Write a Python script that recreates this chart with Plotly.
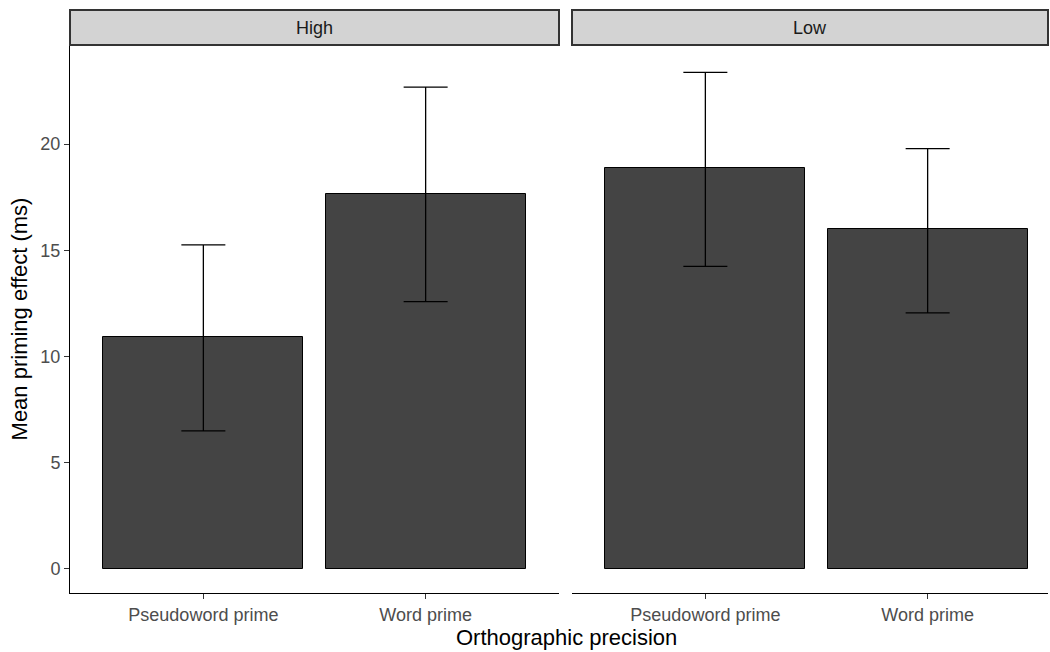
import plotly.graph_objects as go

categories = ["Pseudoword prime", "Word prime"]
panels = ["High", "Low"]
means_high = [10.92, 17.65]
upper_high = [15.25, 22.68]
lower_high = [6.50, 12.58]
means_low = [18.87, 15.98]
upper_low = [23.37, 19.78]
lower_low = [14.24, 12.05]

W, H = 1050, 652
px_x = lambda v: v / W
px_y = lambda v: 1 - v / H

top_plot, bot_plot = 45, 593
strip_top = 10
left1, right1 = 70, 559
left2, right2 = 572, 1048
unit = (right1 - left1) / 2.2

FONT = "Liberation Sans, Arial, sans-serif"
fig = go.Figure()
xpos = [1, 2]
for i, (m, up, lo) in enumerate([(means_high, upper_high, lower_high), (means_low, upper_low, lower_low)]):
    fig.add_trace(go.Bar(
        x=xpos, y=m, width=0.9,
        xaxis="x" if i == 0 else "x2", yaxis="y" if i == 0 else "y2",
        marker=dict(color="#444444", line=dict(color="#000000", width=1)),
        error_y=dict(type="data", symmetric=False,
                     array=[u - v for u, v in zip(up, m)],
                     arrayminus=[v - l for v, l in zip(m, lo)],
                     color="#000000", thickness=1.3, width=22),
        showlegend=False, hoverinfo="skip"))

ymin, ymax = -1.13, 24.66
tickfont = dict(family=FONT, size=18, color="#4d4d4d")
common_x = dict(tickmode="array", tickvals=xpos, ticktext=categories, ticks="outside",
                ticklen=5, tickcolor="#333333", showline=True, linecolor="#000000", linewidth=1,
                showgrid=False, zeroline=False, tickfont=tickfont, fixedrange=True)
fig.update_layout(
    width=W, height=H, margin=dict(l=0, r=0, t=0, b=0),
    paper_bgcolor="white", plot_bgcolor="white", bargap=0,
    xaxis=dict(domain=[px_x(left1), px_x(right1)], range=[0.4, 2.6], anchor="y", **common_x),
    xaxis2=dict(domain=[px_x(left2), px_x(right2)], range=[0.4, 0.4 + (right2 - left2) / unit], anchor="y2", **common_x),
    yaxis=dict(domain=[px_y(bot_plot), px_y(top_plot)], range=[ymin, ymax], anchor="x",
               tickvals=[0, 5, 10, 15, 20], ticks="outside", ticklen=5, tickcolor="#333333",
               showline=True, linecolor="#000000", linewidth=1, showgrid=False, zeroline=False,
               tickfont=tickfont,
               title=dict(text="Mean priming effect (ms)", standoff=6,
                          font=dict(family=FONT, size=22, color="#000000"))),
    yaxis2=dict(domain=[px_y(bot_plot), px_y(top_plot)], range=[ymin, ymax], anchor="x2",
                showticklabels=False, showline=False, showgrid=False, zeroline=False, ticks=""),
)

for (l, r), name in zip([(left1, right1), (left2, right2)], panels):
    fig.add_shape(type="rect", xref="paper", yref="paper",
                  x0=px_x(l), x1=px_x(r), y0=px_y(top_plot), y1=px_y(strip_top),
                  fillcolor="#d3d3d3", line=dict(color="#333333", width=2), layer="above")
    fig.add_annotation(xref="paper", yref="paper", x=px_x((l + r) / 2), y=px_y((strip_top + top_plot) / 2),
                       text=name, showarrow=False, xanchor="center", yanchor="middle",
                       font=dict(family=FONT, size=18, color="#1a1a1a"))

fig.add_annotation(xref="paper", yref="paper", x=px_x(566), y=px_y(637),
                   text="Orthographic precision", showarrow=False, xanchor="center", yanchor="middle",
                   font=dict(family=FONT, size=22, color="#000000"))

fig.write_html("out.html", config={"displayModeBar": False},
               post_script="document.body.style.margin='0';document.body.style.overflow='hidden';")
